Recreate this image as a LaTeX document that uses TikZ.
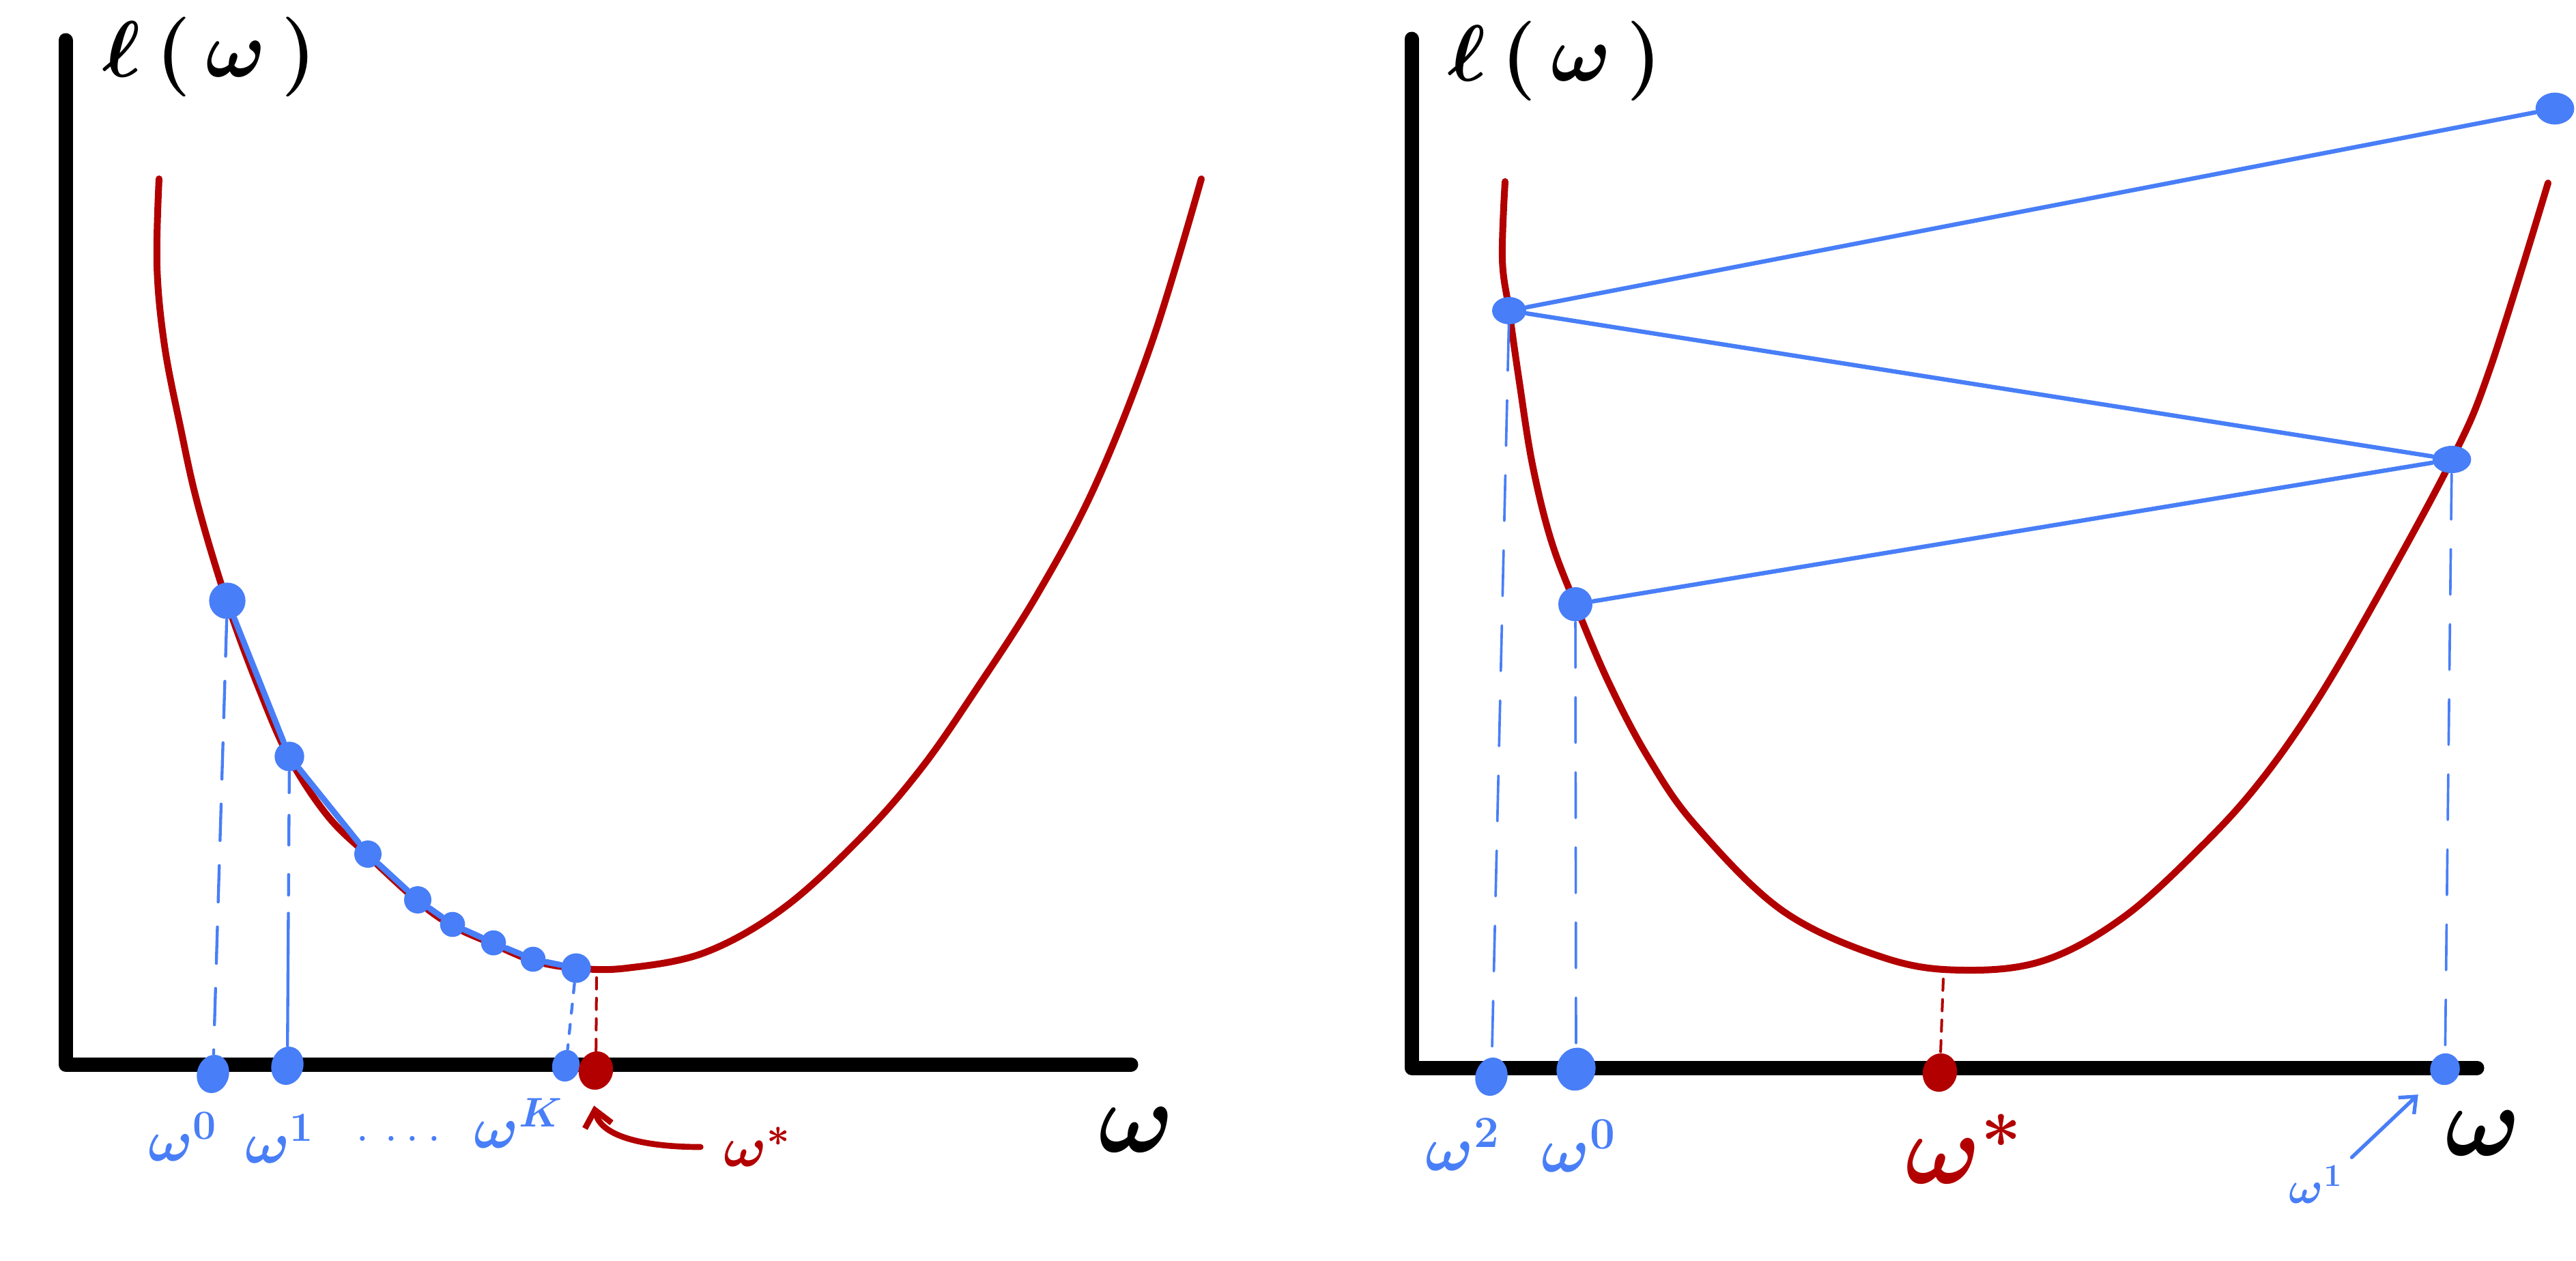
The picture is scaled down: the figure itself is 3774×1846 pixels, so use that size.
\RequirePackage{fix-cm}
\documentclass[tikz,border=0pt]{standalone}
\usetikzlibrary{arrows.meta,shapes.geometric}

\definecolor{lossred}{RGB}{178,0,0}
\definecolor{stepblue}{RGB}{72,126,247}

\tikzset{every picture/.style={line width=0.75pt}}
\tikzset{
  axisline/.style={line width=6.3pt, line cap=round, line join=round},
  losscurve/.style={draw=lossred, line width=3pt, line cap=round, line join=round},
  stepline/.style={draw=stepblue, line width=2.1pt, line cap=round, line join=round},
  dropline/.style={draw=stepblue, line width=1.3pt, line cap=round, dash pattern=on 16pt off 11pt},
  mindrop/.style={draw=lossred, line width=1.2pt, line cap=round, dash pattern=on 5pt off 4pt},
  bluedot/.style={ellipse, fill=stepblue, inner sep=0pt, minimum width=#1, minimum height=#1},
  bluedot/.default=12pt,
  bluemark/.style={ellipse, fill=stepblue, inner sep=0pt, minimum width=14pt, minimum height=17pt, rotate=-15},
  redmark/.style={ellipse, fill=lossred, inner sep=0pt, minimum width=15pt, minimum height=17pt, rotate=-15},
  bluelabel/.style={text=stepblue, inner sep=0pt, font=\fontsize{26}{32}\selectfont\boldmath},
  redlabel/.style={text=lossred, inner sep=0pt, font=\fontsize{25}{30}\selectfont\boldmath},
  axislabel/.style={inner sep=0pt, font=\fontsize{44}{50}\selectfont\boldmath},
  losslabel/.style={inner sep=0pt, font=\fontsize{35}{42}\selectfont\boldmath},
}

\begin{document}
\begin{tikzpicture}[x=0.3pt,y=0.3pt,yscale=-1,xscale=1]
\useasboundingbox (0,0) rectangle (3774,1846);

%%%%%%%%%% left: small steps %%%%%%%%%%

%Shape: Axes [left]
\coordinate (lyt) at (96,59);
\coordinate (lo) at (96,1559);
\coordinate (lxr) at (1657,1559);
\draw[axisline] (lyt) -- (lo) -- (lxr);

%Shape: Loss curve [left]
\draw[losscurve] plot[smooth, tension=0.6] coordinates {(233,262) (230,390) (241,506) (264,624) (290,740) (333,883) (380,1010) (424,1110) (480,1195) (539,1253) (612,1320) (663,1356) (723,1383) (781,1407) (844,1418) (918,1418) (1033,1395) (1148,1330) (1263,1225) (1350,1125) (1430,1010) (1520,870) (1605,710) (1688,500) (1760,262)};

%Shape: Iterates on the curve
\node[bluedot=16pt] (p0) at (333,880) {};
\node[bluedot=13pt] (p1) at (424,1108) {};
\node[bluedot] (p2) at (539,1251) {};
\node[bluedot] (p3) at (612,1318) {};
\node[bluedot=11pt] (p4) at (663,1354) {};
\node[bluedot=11pt] (p5) at (723,1381) {};
\node[bluedot=11pt] (p6) at (781,1405) {};
\node[bluedot=13pt] (p7) at (844,1418) {};
\draw[stepline, line width=2.6pt] (p0) -- (p1) -- (p2) -- (p3) -- (p4) -- (p5) -- (p6) -- (p7);

%Shape: Marks on the axis
\node[bluemark] (lw0) at (312,1573) {};
\node[bluemark] (lw1) at (421,1561) {};
\node[bluemark, minimum width=12pt, minimum height=14pt] (lwk) at (829,1561) {};
\node[redmark] (lws) at (873,1568) {};
\coordinate (lmin) at (874,1432);

\draw[dropline] (p0) -- (lw0);
\draw[dropline, dash pattern=on 9pt off 10pt on 13pt off 13pt on 9pt off 8pt on 200pt] (p1) -- (lw1);
\draw[dropline, dash pattern=on 4pt off 5pt] (p7) -- (lwk);
\draw[mindrop] (lmin) -- (lws);

% Text Node
\node[losslabel] (lloss) at (307,83) {$\ell\,(\,\omega\,)$};
% Text Node
\node[axislabel] (lw) at (1665,1655) {$\omega$};
% Text Node
\node[bluelabel] (ltxt0) at (268,1665) {$\omega^0$};
% Text Node
\node[bluelabel] (ltxt1) at (410,1668) {$\omega^1$};
% Text Node
\node[bluelabel] (ltxtdots) at (584,1668) {.\hspace{6pt}.\hspace{3pt}.\hspace{3pt}.};
% Text Node
\node[bluelabel] (ltxtk) at (760,1645) {$\omega^K$};
% Text Node
\node[redlabel] (ltxts) at (1110,1680) {$\omega^*$};

\draw[losscurve, line width=2.6pt, -{Straight Barb[length=7pt,width=12pt]}, shorten <=10pt, shorten >=7pt] (ltxts.west) .. controls +(-110,0) and +(15,70) .. (lws.south);

%%%%%%%%%% right: too large steps %%%%%%%%%%

%Shape: Axes [right]
\coordinate (ryt) at (2068,57);
\coordinate (ro) at (2068,1564);
\coordinate (rxr) at (3629,1564);
\draw[axisline] (ryt) -- (ro) -- (rxr);

%Shape: Loss curve [right]
\draw[losscurve] plot[smooth, tension=0.6] coordinates {(2205,266) (2201,380) (2211,455) (2226,560) (2245,680) (2272,790) (2308,885) (2357,1000) (2415,1110) (2485,1210) (2613,1335) (2764,1404) (2880,1421) (2997,1406) (3113,1342) (3229,1236) (3311,1145) (3392,1030) (3480,880) (3592,673) (3648,540) (3733,268)};

%Shape: Iterates
\node[bluedot=15pt] (q0) at (2308,885) {};
\node[bluedot, minimum width=17pt] (q1) at (3592,673) {};
\node[bluedot, minimum width=15pt] (q2) at (2211,455) {};
\node[bluedot, minimum width=17pt, minimum height=14pt] (q3) at (3743,159) {};
\draw[stepline, line width=1.9pt] (q0) -- (q1) -- (q2) -- (q3);

%Shape: Marks on the axis
\node[bluemark] (rw2) at (2185,1577) {};
\node[bluemark, minimum width=17pt, minimum height=19pt] (rw0) at (2309,1566) {};
\node[redmark] (rws) at (2842,1571) {};
\node[bluemark, minimum width=13pt, minimum height=14pt] (rw1) at (3582,1566) {};
\coordinate (rmin) at (2847,1434);

\draw[dropline, line width=1.1pt, dash pattern=on 20pt off 13pt] (q2) -- (rw2);
\draw[dropline, line width=1.1pt, dash pattern=on 20pt off 13pt] (q0) -- (rw0);
\draw[dropline, line width=1.1pt, dash pattern=on 20pt off 13pt] (q1) -- (rw1);
\draw[mindrop] (rmin) -- (rws);

% Text Node
\node[losslabel] (rloss) at (2278,89) {$\ell\,(\,\omega\,)$};
% Text Node
\node[axislabel] (rw) at (3638,1660) {$\omega$};
% Text Node
\node[bluelabel, font=\fontsize{28}{34}\selectfont\boldmath] (rtxt2) at (2143,1676) {$\omega^2$};
% Text Node
\node[bluelabel, font=\fontsize{28}{34}\selectfont\boldmath] (rtxt0) at (2313,1678) {$\omega^0$};
% Text Node
\node[redlabel, font=\fontsize{44}{50}\selectfont\boldmath] (rtxts) at (2877,1683) {$\omega^*$};
% Text Node
\node[bluelabel, font=\fontsize{20}{24}\selectfont\boldmath] (rtxt1) at (3393,1735) {$\omega^1$};

\draw[stepline, line width=1.6pt, -{Straight Barb[length=6pt,width=10pt]}, shorten <=5pt, shorten >=9pt] (rtxt1.north east) -- (rw1);

\end{tikzpicture}
\end{document}
